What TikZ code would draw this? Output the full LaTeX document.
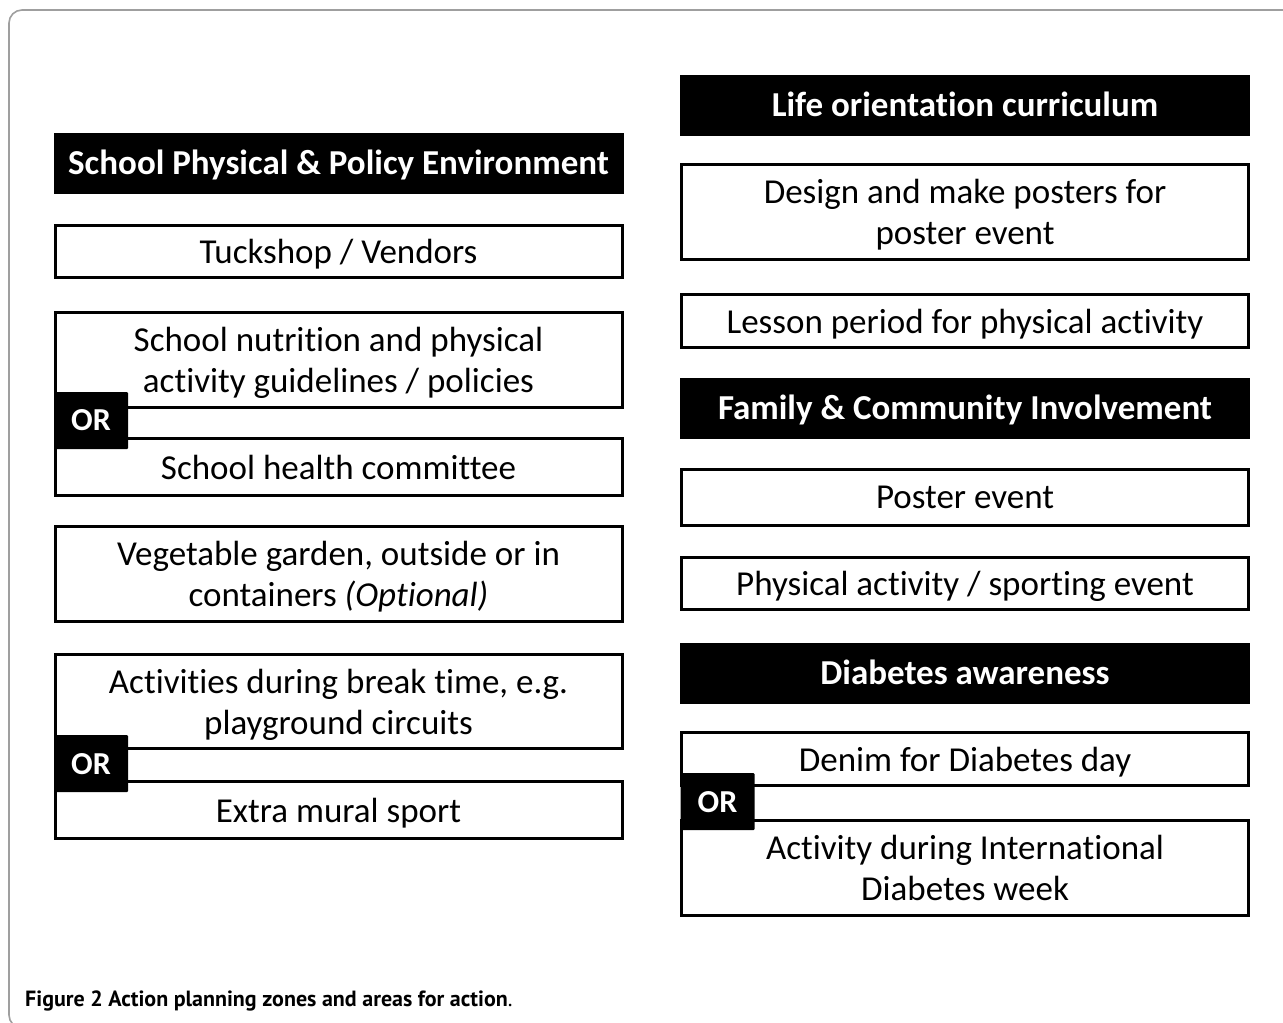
\documentclass[tikz,border=0pt]{standalone}
\usepackage{fontspec}
\setmainfont{Carlito}[Ligatures=NoCommon]
\newfontfamily\capfont{PT Sans}
\begin{document}
\begin{tikzpicture}[x=1pt,y=-1pt,
		area/.style={draw, line width=3pt, minimum width=567pt, align=center, text depth=0pt,
			font=\fontsize{35}{41}\selectfont},
		zone/.style={fill=black, text=white, minimum width=570pt, minimum height=61pt,
			text depth=2pt, font=\fontsize{35}{41}\selectfont\bfseries},
		orbox/.style={fill=black, text=white, minimum width=74pt, minimum height=57pt,
			inner sep=0pt, rounded corners=1pt, text depth=0pt, font=\fontsize{32}{34}\selectfont\bfseries}]
	\useasboundingbox (0,0) rectangle (1283,1023);
	% frame round the figure
	\draw[line width=1.6pt, gray!75, rounded corners=13pt] (1300,10) -- (9,10) -- (9,1028) -- (40,1028);
	% left column
	\node[zone] (School) at (338.5,163.5) {School Physical \& Policy Environment};
	\node[area, minimum height=52pt] (tuck) at (338.5,251.5) {Tuckshop / Vendors};
	\node[area, minimum height=95pt] (guide) at (338.5,360) {School nutrition and physical\\activity guidelines / policies};
	\node[area, minimum height=57pt] (comm) at (338.5,467) {School health committee};
	\node[area, minimum height=95pt] (garden) at (338.5,574) {Vegetable garden, outside or in\\containers \textit{(Optional)}};
	\node[area, minimum height=94pt] (brk) at (338.5,701.5) {Activities during break time, e.g.\\playground circuits};
	\node[area, minimum height=57pt] (sport) at (338.5,810) {Extra mural sport};
	\node[orbox] (or1) at (91,420.5) {OR};
	\node[orbox] (or2) at (91,763.5) {OR};
	% right column
	\node[zone] (Life) at (965,105.5) {Life orientation curriculum};
	\node[area, minimum height=95pt] (posters) at (965,212) {Design and make posters for\\poster event};
	\node[area, minimum height=53pt] (lesson) at (965,321) {Lesson period for physical activity};
	\node[zone] (Family) at (965,408.5) {Family \& Community Involvement};
	\node[area, minimum height=56pt] (pevent) at (965,497.5) {Poster event};
	\node[area, minimum height=52pt] (sevent) at (965,583.5) {Physical activity / sporting event};
	\node[zone] (Diab) at (965,673) {Diabetes awareness};
	\node[area, minimum height=53pt] (denim) at (965,759) {Denim for Diabetes day};
	\node[area, minimum height=95pt] (week) at (965,868) {Activity during International\\Diabetes week};
	\node[orbox] (or3) at (717.5,801.5) {OR};
	% caption
	\node[anchor=base west, inner sep=0pt, font=\capfont\fontsize{22}{26}\selectfont] (cap) at (25,1006)
		{\textbf{Figure 2 Action planning zones and areas for action}.};
\end{tikzpicture}
\end{document}
